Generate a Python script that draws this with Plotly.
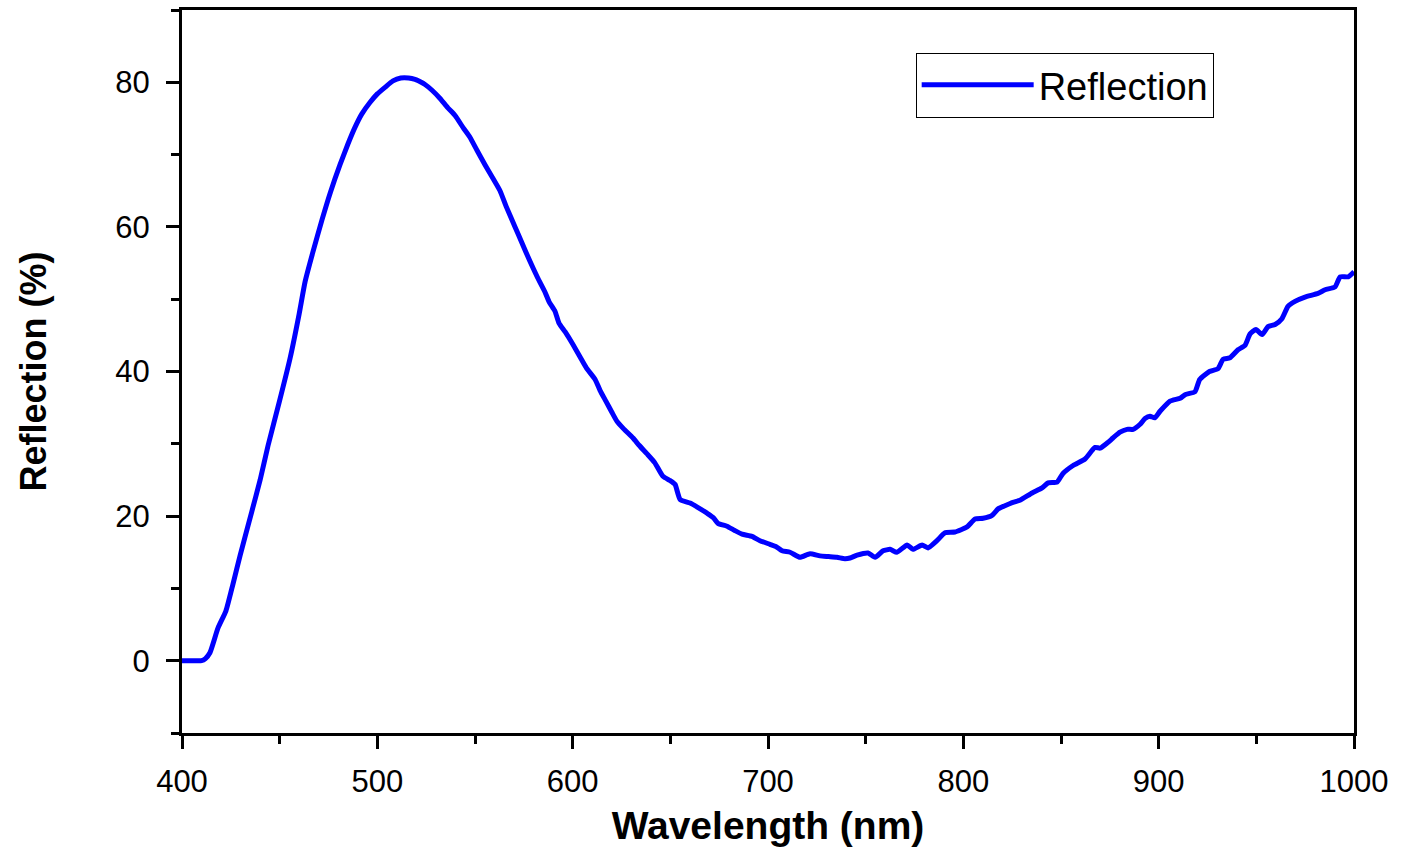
import plotly.graph_objects as go

wavelength = [400, 405, 410, 412, 414.3, 418.4, 422.5, 426, 429.7, 435.8, 440, 444, 450, 455.3, 460, 463,
              467, 471.7, 476, 480.9, 485, 488.6, 492, 496.2, 500, 503.9, 508, 512, 516, 519.3, 521, 524.4,
              528, 532, 536, 539.8, 544, 547.4, 551, 555.1, 559, 562.8, 566, 570.5, 574, 578.2, 582, 585.8,
              588, 591, 593, 596.1, 600, 603.8, 607, 611.5, 614, 617, 620, 622.7, 626, 630.9, 634, 638.1,
              642, 646.2, 650, 652.4, 655, 660.1, 664, 668.8, 672, 674.4, 679, 683, 686.7, 691.8, 695.9, 701,
              704, 707.2, 711.3, 716.4, 721.5, 726.6, 731, 735.3, 739.4, 742, 745.6, 751.2, 754.8, 758.9,
              762.5, 766, 771.2, 774.2, 778.9, 781.9, 786.5, 790.6, 795.7, 801.9, 806, 810.1, 814.7, 817.8,
              821, 825.4, 829, 835.2, 840.3, 843.4, 848, 851, 856.2, 862.3, 867.4, 870, 873.6, 876.6, 880.2,
              883.8, 886.9, 890.5, 893, 895.6, 898, 900.7, 905.8, 911, 913.5, 918.6, 921, 926, 930.4, 933,
              936.5, 940.6, 944.2, 946.8, 949.8, 952.9, 956, 959.6, 963.1, 966.2, 969.8, 974.9, 981.6, 985.2,
              990.3, 992.9, 997, 1000]
reflection = [0, 0, 0, 0.3, 1.1, 4.5, 6.9, 10.5, 14.5, 20.7, 25, 29.7, 36, 41.8, 48, 52.4,
              56.5, 61, 64.8, 68.6, 71.5, 73.8, 75.6, 77.2, 78.4, 79.3, 80.2, 80.6, 80.6, 80.4, 80.2, 79.7,
              78.9, 77.8, 76.5, 75.4, 73.7, 72.4, 70.6, 68.6, 66.8, 65, 62.8, 60, 57.8, 55.2, 53, 51,
              49.6, 48.3, 46.7, 45.5, 43.8, 42, 40.5, 38.9, 37.4, 35.9, 34.4, 33.1, 32.1, 30.8, 29.8, 28.6,
              27.4, 25.5, 24.9, 24.4, 22.3, 21.8, 21.2, 20.4, 19.8, 19.0, 18.6, 18.0, 17.5, 17.2, 16.6, 16.1,
              15.8, 15.2, 15.0, 14.3, 14.8, 14.5, 14.4, 14.3, 14.1, 14.2, 14.6, 14.9, 14.3, 15.2,
              15.4, 15.0, 16.0, 15.4, 16.0, 15.6, 16.6, 17.7, 17.8, 18.5, 19.6, 19.7, 20.1, 21.0,
              21.4, 21.9, 22.2, 23.2, 23.9, 24.6, 24.7, 25.9, 27.0, 27.9, 29.5, 29.4, 30.1, 30.8, 31.6,
              32.0, 32.0, 32.7, 33.5, 33.8, 33.6, 34.5, 35.9, 36.3, 36.8, 37.2, 38.9, 40, 40.4, 41.7,
              41.9, 43, 43.6, 45.2, 45.8, 45.1, 46.2, 46.5, 47.3, 49, 49.7, 50.3, 50.8, 51.3,
              51.7, 53.1, 53.1, 53.8]

x_ticks = [400, 500, 600, 700, 800, 900, 1000]
y_ticks = [0, 20, 40, 60, 80]

FONT = "Liberation Sans, Arial, sans-serif"

fig = go.Figure()
fig.add_trace(go.Scatter(x=wavelength, y=reflection, mode="lines", name="Reflection",
                         line=dict(color="#0000FF", width=5, shape="spline", smoothing=0.5)))

axis_common = dict(showline=True, linecolor="black", linewidth=3, mirror=True,
                   ticks="outside", ticklen=13, tickwidth=3, tickcolor="black",
                   showgrid=False, zeroline=False,
                   tickfont=dict(family=FONT, size=31, color="black"))

fig.update_xaxes(range=[400, 1000], tickvals=x_ticks, ticklabelstandoff=6,
                 minor=dict(ticks="outside", ticklen=8, tickwidth=3, tickcolor="black", dtick=50, tick0=400),
                 title=dict(text="<b>Wavelength (nm)</b>", font=dict(family=FONT, size=39, color="black"),
                            standoff=14),
                 **axis_common)
fig.update_yaxes(range=[-10, 90], tickvals=y_ticks, ticklabelstandoff=10,
                 minor=dict(ticks="outside", ticklen=8, tickwidth=3, tickcolor="black", dtick=10, tick0=-10),
                 title=dict(text="<b>Reflection (%)</b>", font=dict(family=FONT, size=36, color="black"),
                            standoff=58),
                 **axis_common)

fig.update_layout(
    width=1401, height=848,
    margin=dict(l=182, r=47, t=7, b=115),
    plot_bgcolor="white", paper_bgcolor="white",
    showlegend=True,
    legend=dict(x=0.626, y=0.941, xanchor="left", yanchor="top",
                bordercolor="black", borderwidth=1, bgcolor="white",
                font=dict(family=FONT, size=38, color="black"),
                itemwidth=112),
)

fig.write_html("out.html")
